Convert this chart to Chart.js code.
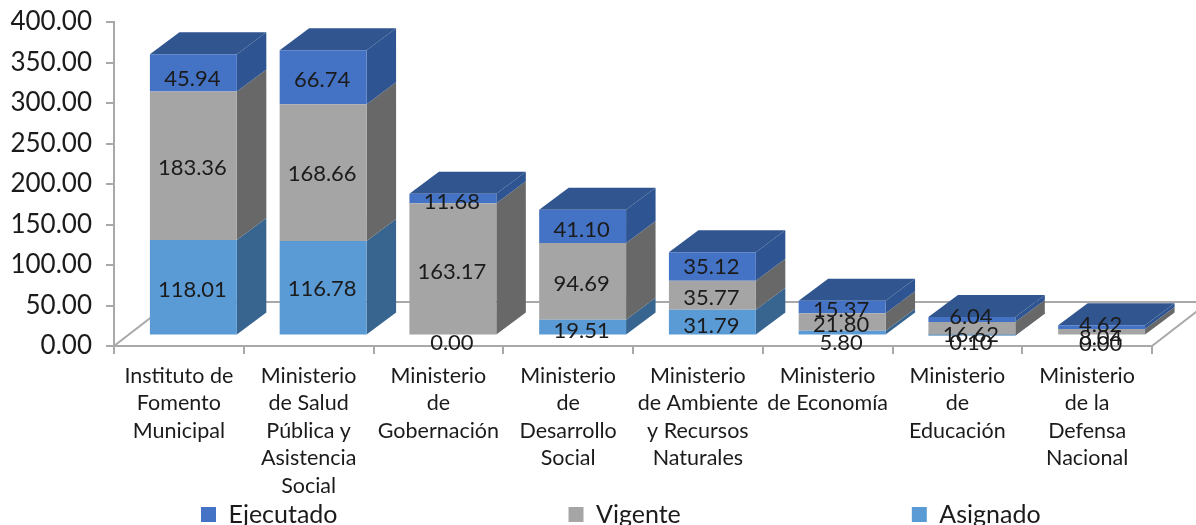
<!DOCTYPE html>
<html><head><meta charset="utf-8">
<style>html,body{margin:0;padding:0;background:#fff;overflow:hidden}#w{width:1196px;height:525px}</style>
<script src="https://cdn.jsdelivr.net/npm/chart.js@4/dist/chart.umd.min.js"></script>
</head><body><div id="w"><canvas id="c" width="1196" height="525"></canvas></div>
<script>
const categories = [
  ["Instituto de","Fomento","Municipal"],
  ["Ministerio","de Salud","Pública y","Asistencia","Social"],
  ["Ministerio","de","Gobernación"],
  ["Ministerio","de","Desarrollo","Social"],
  ["Ministerio","de Ambiente","y Recursos","Naturales"],
  ["Ministerio","de Economía"],
  ["Ministerio","de","Educación"],
  ["Ministerio","de la","Defensa","Nacional"]
];
const asignado  = [118.01,116.78,0.00,19.51,31.79,5.80,0.10,0.00];
const vigente   = [183.36,168.66,163.17,94.69,35.77,21.80,16.62,8.04];
const ejecutado = [45.94,66.74,11.68,41.10,35.12,15.37,6.04,4.62];
const yTicks = [0,50,100,150,200,250,300,350,400];

// vertical nudges of the value labels relative to the segment centre
const nudgeAsignado  = [3,1,7,4,4,10,8,8];
const nudgeVigente   = [2,1,3,3,3,3,6,6];
const nudgeEjecutado = [6,3,3,4,0,3,-3,-2];
const nudges = [nudgeAsignado,nudgeVigente,nudgeEjecutado];

const FONT = 'Lato';
const TXT = '#1b1b1b';
const AXIS = '#a9a9a9';
const DEPTH = {x:57,y:-44};
const FRONT = {x:14.5,y:-10.5};
const BACK = {x:44,y:-32.5};

function poly(ctx,pts,fill){
  ctx.beginPath();
  pts.forEach((p,i)=> i?ctx.lineTo(p[0],p[1]):ctx.moveTo(p[0],p[1]));
  ctx.closePath();
  ctx.fillStyle=fill; ctx.fill();
}

const bar3d = {
  id:'bar3d',
  beforeLayout(chart){
    const l = chart.legend;
    if(l && !l.__patched){
      const f = l.fit;
      l.fit = function(){ this.maxWidth = 3000; f.call(this); this.height = 30; };
      l.__patched = true;
    }
  },
  afterLayout(chart){
    const l = chart.legend;
    if(l){
      const p = l.options.labels.padding;
      l.top = 502 - p; l.left = 201 - p; l.right = 3000;
    }
  },
  beforeDatasetsDraw(chart){
    const ctx = chart.ctx, xs = chart.scales.x, ys = chart.scales.y;
    const y0 = ys.getPixelForValue(0), xl = xs.left, xr = xs.right;
    ctx.save();
    ctx.strokeStyle = AXIS; ctx.lineWidth = 2;
    ctx.beginPath();
    ctx.moveTo(xl,y0); ctx.lineTo(xl+DEPTH.x,y0+DEPTH.y); ctx.lineTo(xr+DEPTH.x,y0+DEPTH.y); ctx.lineTo(xr,y0);
    ctx.stroke();
    ctx.restore();
    ctx.save();
    ctx.translate(FRONT.x,FRONT.y);
    const dx = BACK.x-FRONT.x, dy = BACK.y-FRONT.y;
    chart.data.datasets.forEach((ds,di)=>{
      chart.getDatasetMeta(di).data.forEach((el)=>{
        const p = el.getProps(['x','y','base','width']);
        const r = p.x+p.width/2;
        poly(ctx,[[r,p.y],[r+dx,p.y+dy],[r+dx,p.base+dy],[r,p.base]],ds.sideColor);
      });
    });
    const top = chart.data.datasets[chart.data.datasets.length-1];
    chart.getDatasetMeta(chart.data.datasets.length-1).data.forEach((el)=>{
      const p = el.getProps(['x','y','width']);
      const r = p.x+p.width/2, l = p.x-p.width/2;
      poly(ctx,[[l,p.y],[l+dx,p.y+dy],[r+dx,p.y+dy],[r,p.y]],top.topColor);
    });
  },
  afterDatasetsDraw(chart){
    const ctx = chart.ctx;
    ctx.font = '22px '+FONT;
    ctx.fillStyle = TXT;
    ctx.textAlign = 'center';
    ctx.textBaseline = 'middle';
    chart.data.datasets.forEach((ds,di)=>{
      chart.getDatasetMeta(di).data.forEach((el,i)=>{
        const p = el.getProps(['x','y','base']);
        ctx.fillText(ds.data[i].toFixed(2), p.x-1, (p.y+p.base)/2 + nudges[di][i]);
      });
    });
    ctx.restore();
  }
};

new Chart(document.getElementById('c'),{
  type:'bar',
  data:{labels:categories,datasets:[
    {label:'Asignado',data:asignado,backgroundColor:'#5B9BD5',sideColor:'#37658F',clip:false},
    {label:'Vigente',data:vigente,backgroundColor:'#A5A5A5',sideColor:'#686868',clip:false},
    {label:'Ejecutado',data:ejecutado,backgroundColor:'#4472C4',sideColor:'#2E5592',topColor:'#30558F',clip:false}
  ]},
  plugins:[bar3d],
  options:{
    responsive:false,animation:false,
    categoryPercentage:1,barPercentage:0.67,
    layout:{padding:{left:0,right:44,top:22,bottom:0}},
    scales:{
      x:{stacked:true,
        afterFit(s){s.height=149;s.paddingLeft=0;s.paddingRight=0;},
        grid:{offset:true,drawOnChartArea:false,color:AXIS,lineWidth:2,tickLength:8},
        border:{color:AXIS,width:2},
        ticks:{color:TXT,font:{family:FONT,size:21.5,lineHeight:1.28},padding:8,maxRotation:0,minRotation:0,autoSkip:false}
      },
      y:{stacked:true,min:0,max:400,
        afterFit(s){s.width=114;s.paddingTop=0;s.paddingBottom=0;},
        afterBuildTicks(s){s.ticks=yTicks.map(v=>({value:v}));},
        grid:{drawOnChartArea:false,color:AXIS,lineWidth:2,tickLength:8},
        border:{color:AXIS,width:2},
        ticks:{color:TXT,font:{family:FONT,size:26},padding:14,callback:v=>v.toFixed(2)}
      }
    },
    plugins:{
      tooltip:{enabled:false},
      legend:{position:'bottom',align:'start',reverse:true,
        labels:{color:TXT,font:{family:FONT,size:25},boxWidth:15,boxHeight:15,padding:231}
      }
    }
  }
});
</script></body></html>
